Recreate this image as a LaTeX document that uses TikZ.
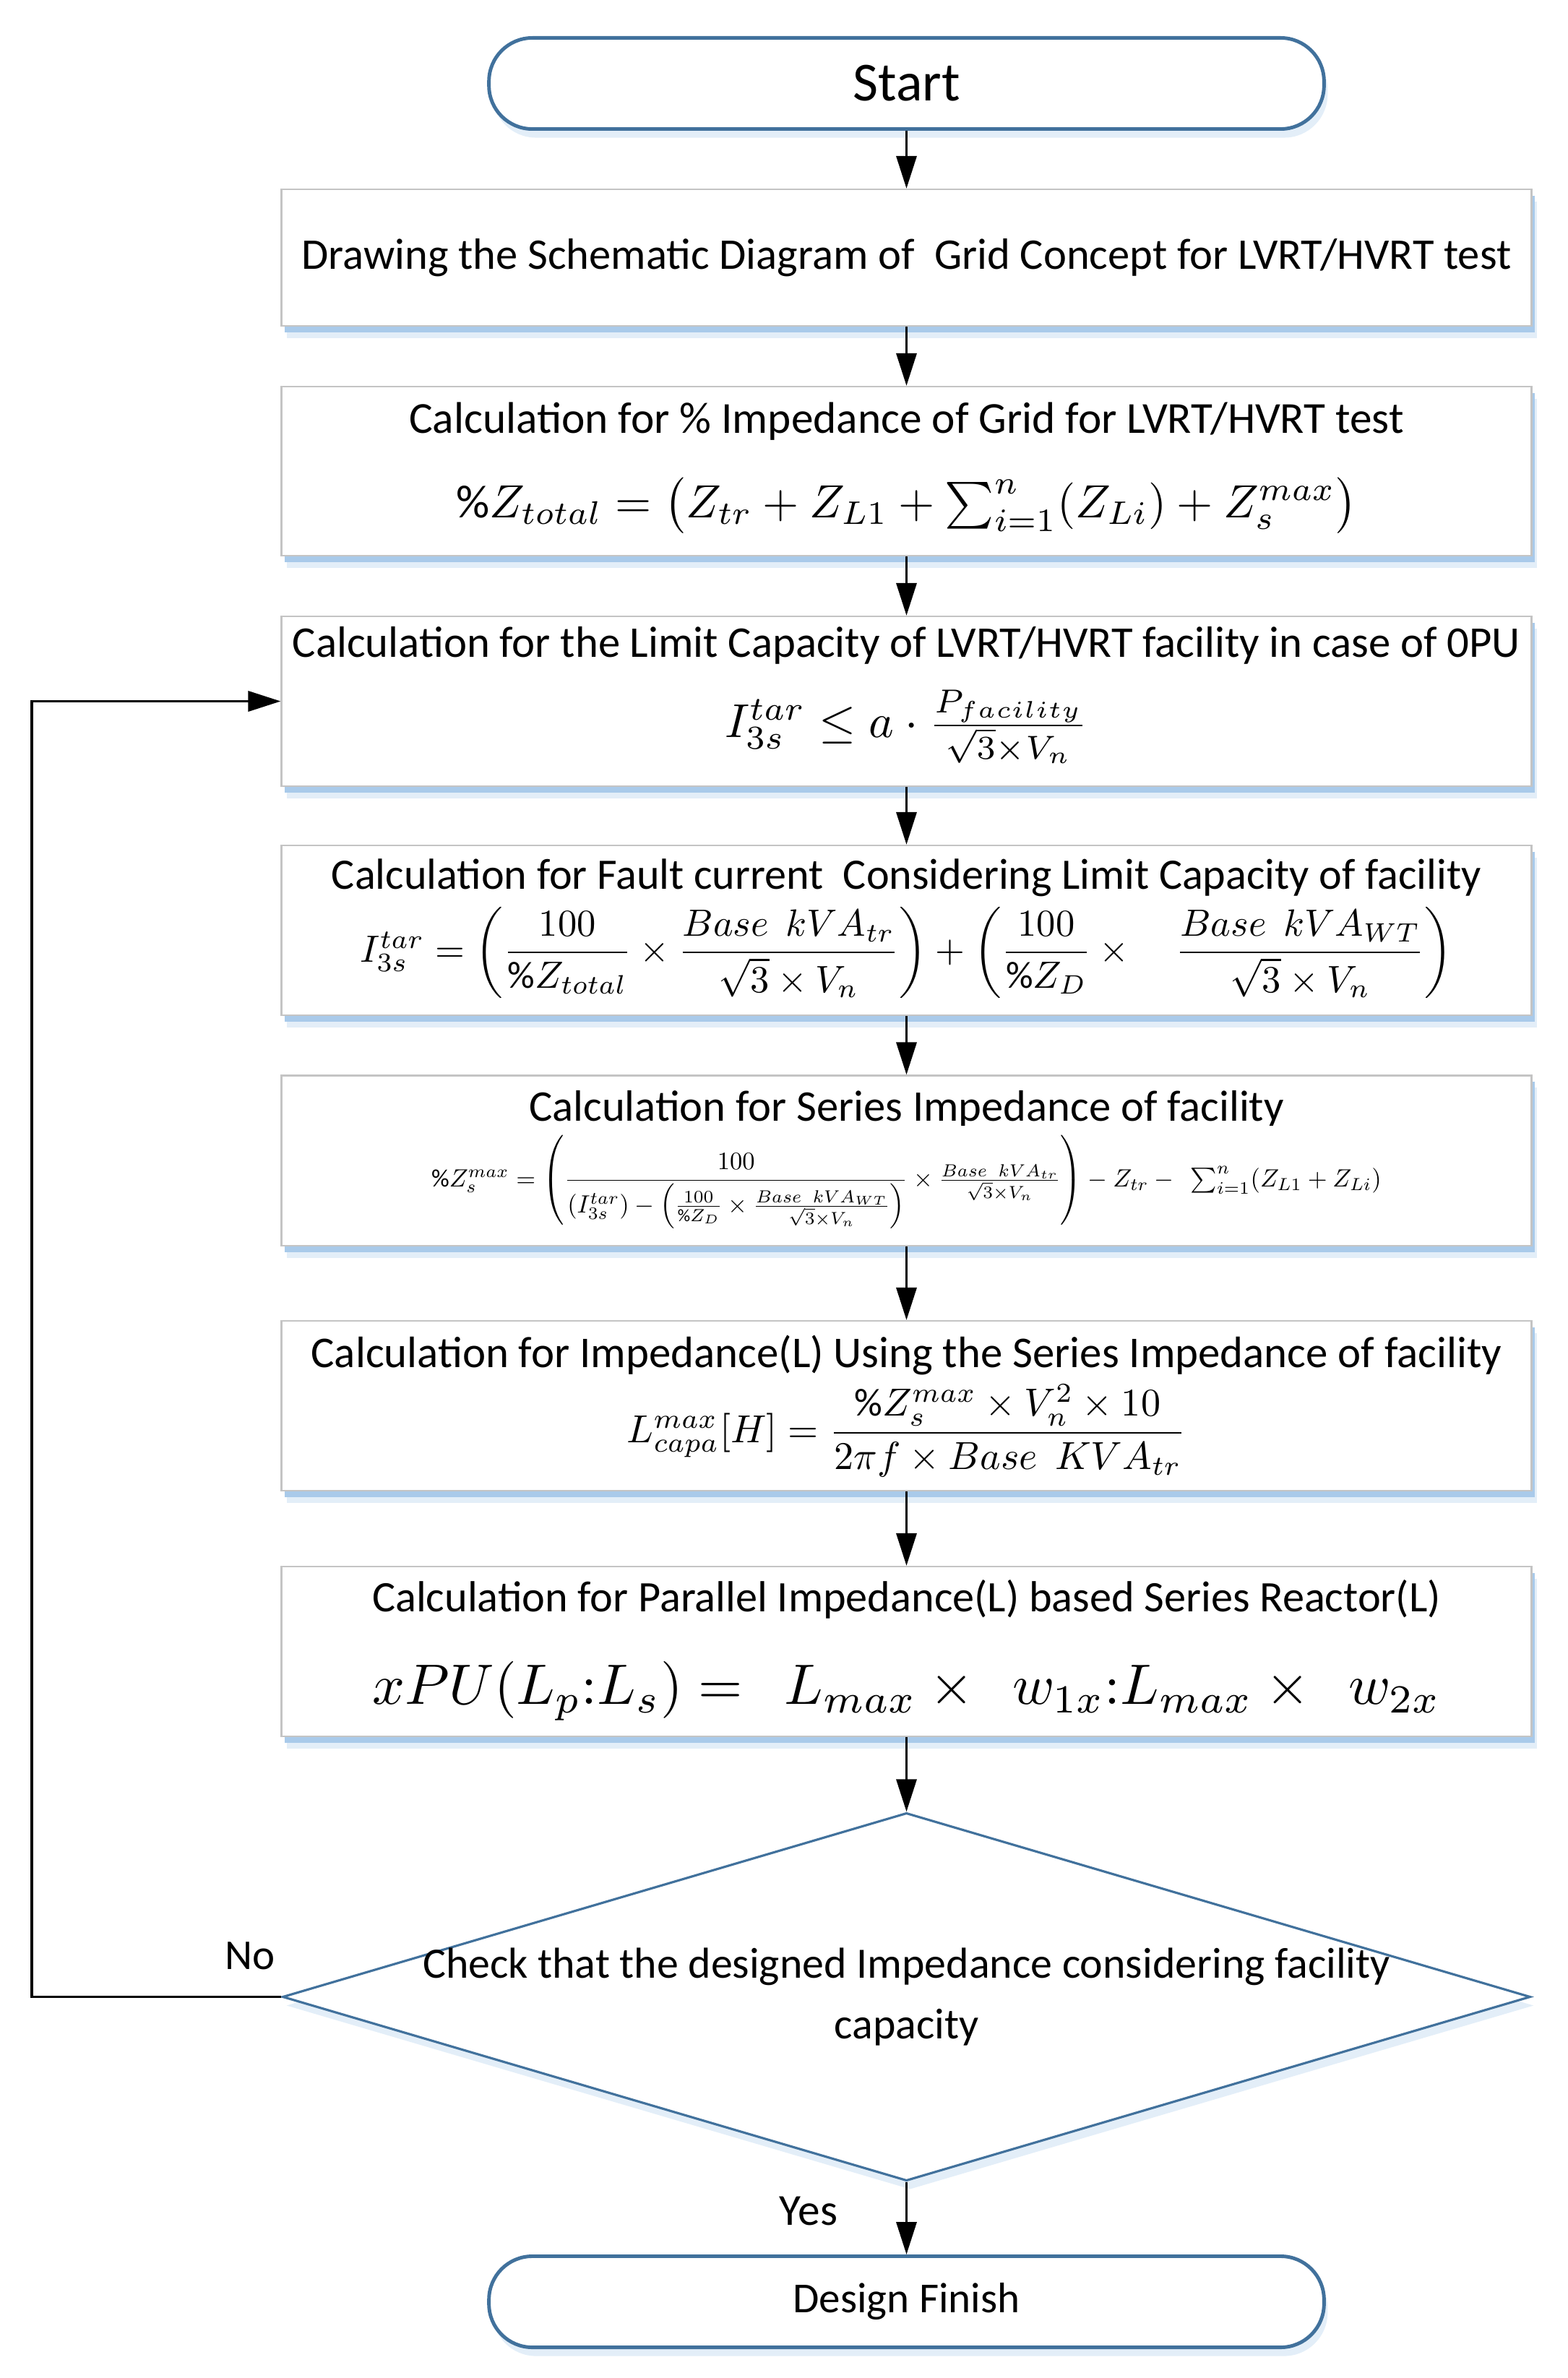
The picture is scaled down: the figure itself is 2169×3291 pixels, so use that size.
\documentclass[tikz,border=0pt]{standalone}
\usepackage{amsmath}
\usepackage{graphicx}
\usepackage{fontspec}
\setmainfont{Carlito}
\usetikzlibrary{arrows.meta,shadows,shapes.geometric}
\definecolor{termblue}{HTML}{41719C}
\definecolor{boxgray}{HTML}{C4C4C4}
\definecolor{shA}{HTML}{E3EEF8}
\definecolor{shB}{HTML}{A9CAEA}
\tikzset{
  procbox/.style={draw=boxgray, line width=0.6pt, fill=white, minimum width=17.29cm, inner sep=0pt,
    drop shadow={shadow xshift=0.07cm, shadow yshift=-0.17cm, fill=shA, opacity=1},
    drop shadow={shadow xshift=0.04cm, shadow yshift=-0.09cm, fill=shB, opacity=1}},
  term/.style={draw=termblue, line width=1.4pt, fill=white, rounded corners=0.6cm,
    minimum width=11.55cm, minimum height=1.26cm, inner sep=0pt,
    drop shadow={shadow xshift=0.05cm, shadow yshift=-0.12cm, fill=shA, opacity=1}},
  decision/.style={diamond, draw=termblue, line width=0.9pt, fill=white, inner sep=0pt,
    minimum width=17.26cm, minimum height=5.09cm,
    drop shadow={shadow xshift=0.05cm, shadow yshift=-0.12cm, fill=shA, opacity=1}},
  arr/.style={-{Triangle[length=0.45cm,width=0.28cm]}, line width=1pt, black},
  txt/.style={inner sep=0pt, anchor=center}
}
\begin{document}
\begin{tikzpicture}[x=0.01cm,y=-0.01cm]
\useasboundingbox (0,0) rectangle (2169,3291);
% terminals
\node[term] (start) at (1254.5,115.5) {\resizebox{1.48cm}{!}{Start}};
\node[term] (finish) at (1254.5,3185.5) {\resizebox{3.14cm}{!}{Design Finish}};
% process boxes
\node[procbox, minimum height=1.89cm] (b1) at (1254.5,356.5) {};
\node[procbox, minimum height=2.34cm] (b2) at (1254.5,652) {};
\node[procbox, minimum height=2.35cm] (b3) at (1254.5,970.5) {};
\node[procbox, minimum height=2.35cm] (b4) at (1254.5,1287.5) {};
\node[procbox, minimum height=2.35cm] (b5) at (1254.5,1606) {};
\node[procbox, minimum height=2.35cm] (b6) at (1254.5,1945.5) {};
\node[procbox, minimum height=2.35cm] (b7) at (1254.5,2285.5) {};
% decision
\node[decision] (dec) at (1254.5,2763.5) {};
% texts
\node[txt] (t1) at (1254.5,357) {\resizebox{16.73cm}{!}{Drawing the Schematic Diagram of\ \ Grid Concept for LVRT/HVRT test}};
\node[txt] (t2) at (1254.5,583) {\resizebox{13.76cm}{!}{Calculation for \% Impedance of Grid for LVRT/HVRT test}};
\node[txt] (f2) at (1254.5,700) {\resizebox{12.46cm}{!}{$\%Z_{total}=\big(Z_{tr}+Z_{L1}+\sum_{i=1}^{n}(Z_{Li})+Z_s^{max}\big)$}};
\node[txt] (t3) at (1254.5,893) {\resizebox{16.98cm}{!}{Calculation for the Limit Capacity of LVRT/HVRT facility in case of 0PU}};
\node[txt] (f3) at (1254.5,1006) {\resizebox{5.02cm}{!}{$I_{3s}^{tar}\le a\cdot\frac{P_{facility}}{\sqrt{3}\times V_n}$}};
\node[txt] (t4) at (1254.5,1215) {\resizebox{15.9cm}{!}{Calculation for Fault current\ \ Considering Limit Capacity of facility}};
\node[txt] (f4) at (1254.5,1318) {\resizebox{15.11cm}{!}{$I_{3s}^{tar}=\left(\dfrac{100}{\%Z_{total}}\times\dfrac{Base\ \ kVA_{tr}}{\sqrt{3}\times V_n}\right)+\left(\dfrac{100}{\%Z_D}\times\quad\dfrac{Base\ \ kVA_{WT}}{\sqrt{3}\times V_n}\right)$}};
\begin{scope}
\clip (400,1490) rectangle (2110,1557);
\node[txt, anchor=base] (t5) at (1254.5,1551) {\resizebox{10.44cm}{!}{\raisebox{0pt}[\height][0pt]{Calculation for Series Impedance of facility}}};
\end{scope}
\node[txt] (f5) at (1254.5,1636) {\resizebox{13.14cm}{!}{$\%Z_s^{max}=\left(\dfrac{100}{\left(I_{3s}^{tar}\right)-\left(\frac{100}{\%Z_D}\times\frac{Base\ \ kVA_{WT}}{\sqrt{3}\times V_n}\right)}\times\frac{Base\ \ kVA_{tr}}{\sqrt{3}\times V_n}\right)-Z_{tr}-\ \ \sum_{i=1}^{n}(Z_{L1}+Z_{Li})$}};
\node[txt] (t6) at (1254.5,1875) {\resizebox{16.47cm}{!}{Calculation for Impedance(L) Using the Series Impedance of facility}};
\node[txt] (f6) at (1254.5,1980) {\resizebox{7.73cm}{!}{$L_{capa}^{max}[H]=\dfrac{\%Z_s^{max}\times V_n^2\times 10}{2\pi f\times Base\ \ KVA_{tr}}$}};
\node[txt] (t7) at (1254.5,2213) {\resizebox{14.78cm}{!}{Calculation for Parallel Impedance(L) based Series Reactor(L)}};
\node[txt] (f7) at (1254.5,2340) {\resizebox{14.78cm}{!}{$xPU(L_p{:}L_s)=\ \ L_{max}\times\ \ w_{1x}{:}L_{max}\times\ \ w_{2x}$}};
\node[txt] (dt) at (1254.5,2765) {\resizebox{13.38cm}{!}{\begin{tabular}{@{}c@{}}Check that the designed Impedance considering facility\\[2pt] capacity\end{tabular}}};
\node[txt] (no) at (346,2707) {\resizebox{0.69cm}{!}{No}};
\node[txt] (yes) at (1119,3060) {\resizebox{0.8cm}{!}{Yes}};
% connectors
\draw[arr] (start.south) -- (b1.north);
\draw[arr] (b1.south) -- (b2.north);
\draw[arr] (b2.south) -- (b3.north);
\draw[arr] (b3.south) -- (b4.north);
\draw[arr] (b4.south) -- (b5.north);
\draw[arr] (b5.south) -- (b6.north);
\draw[arr] (b6.south) -- (b7.north);
\draw[arr] (b7.south) -- (dec.north);
\draw[arr] (dec.south) -- (finish.north);
\coordinate (fb) at (44,970.5);
\draw[arr] (dec.west) -| (fb) -- (b3.west);
\end{tikzpicture}
\end{document}
